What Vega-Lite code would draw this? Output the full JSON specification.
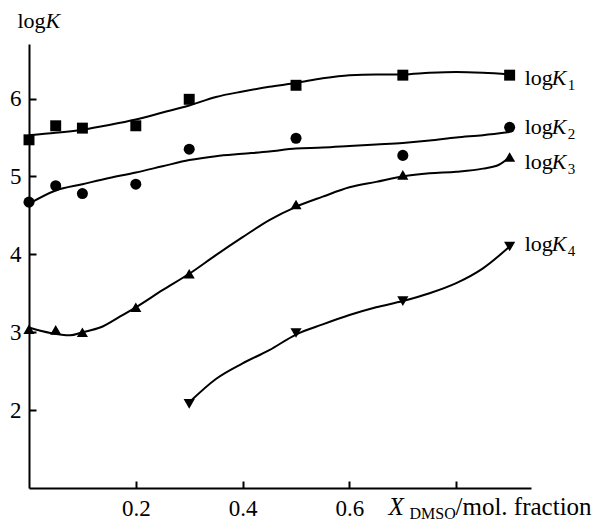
{
  "$schema": "https://vega.github.io/schema/vega-lite/v6.json",
  "width": 502,
  "height": 444,
  "autosize": {"type": "none"},
  "padding": {"left": 29, "top": 44, "right": 68, "bottom": 32},
  "background": "white",
  "config": {
    "font": "Liberation Serif",
    "view": {"stroke": null},
    "axis": {
      "grid": false,
      "domainColor": "black",
      "tickColor": "black",
      "labelColor": "black",
      "titleColor": "black",
      "domainWidth": 2,
      "tickWidth": 2,
      "labelFont": "Liberation Serif",
      "titleFont": "Liberation Serif",
      "titleFontWeight": "normal"
    }
  },
  "datasets": {
    "curves": [
      {"series": "1", "x": 0, "y": 5.53}, {"series": "1", "x": 0.05, "y": 5.56}, {"series": "1", "x": 0.1, "y": 5.6}, {"series": "1", "x": 0.15, "y": 5.66}, {"series": "1", "x": 0.2, "y": 5.73}, {"series": "1", "x": 0.25, "y": 5.82}, {"series": "1", "x": 0.3, "y": 5.91}, {"series": "1", "x": 0.35, "y": 6.02}, {"series": "1", "x": 0.4, "y": 6.09}, {"series": "1", "x": 0.45, "y": 6.15}, {"series": "1", "x": 0.5, "y": 6.2}, {"series": "1", "x": 0.55, "y": 6.26}, {"series": "1", "x": 0.6, "y": 6.3}, {"series": "1", "x": 0.65, "y": 6.31}, {"series": "1", "x": 0.7, "y": 6.31}, {"series": "1", "x": 0.75, "y": 6.33}, {"series": "1", "x": 0.8, "y": 6.34}, {"series": "1", "x": 0.85, "y": 6.33}, {"series": "1", "x": 0.9, "y": 6.31},
      {"series": "2", "x": 0, "y": 4.65}, {"series": "2", "x": 0.05, "y": 4.82}, {"series": "2", "x": 0.1, "y": 4.9}, {"series": "2", "x": 0.15, "y": 4.98}, {"series": "2", "x": 0.2, "y": 5.05}, {"series": "2", "x": 0.25, "y": 5.13}, {"series": "2", "x": 0.3, "y": 5.21}, {"series": "2", "x": 0.35, "y": 5.26}, {"series": "2", "x": 0.4, "y": 5.29}, {"series": "2", "x": 0.45, "y": 5.32}, {"series": "2", "x": 0.5, "y": 5.36}, {"series": "2", "x": 0.55, "y": 5.37}, {"series": "2", "x": 0.6, "y": 5.39}, {"series": "2", "x": 0.65, "y": 5.41}, {"series": "2", "x": 0.7, "y": 5.43}, {"series": "2", "x": 0.75, "y": 5.46}, {"series": "2", "x": 0.8, "y": 5.5}, {"series": "2", "x": 0.85, "y": 5.53}, {"series": "2", "x": 0.9, "y": 5.57},
      {"series": "3", "x": 0, "y": 3.06}, {"series": "3", "x": 0.04, "y": 2.99}, {"series": "3", "x": 0.077, "y": 2.96}, {"series": "3", "x": 0.1, "y": 3.0}, {"series": "3", "x": 0.133, "y": 3.06}, {"series": "3", "x": 0.17, "y": 3.2}, {"series": "3", "x": 0.2, "y": 3.32}, {"series": "3", "x": 0.25, "y": 3.54}, {"series": "3", "x": 0.3, "y": 3.75}, {"series": "3", "x": 0.35, "y": 3.99}, {"series": "3", "x": 0.4, "y": 4.22}, {"series": "3", "x": 0.45, "y": 4.44}, {"series": "3", "x": 0.5, "y": 4.61}, {"series": "3", "x": 0.55, "y": 4.74}, {"series": "3", "x": 0.6, "y": 4.86}, {"series": "3", "x": 0.65, "y": 4.93}, {"series": "3", "x": 0.7, "y": 5.0}, {"series": "3", "x": 0.75, "y": 5.04}, {"series": "3", "x": 0.8, "y": 5.06}, {"series": "3", "x": 0.85, "y": 5.1}, {"series": "3", "x": 0.88, "y": 5.15}, {"series": "3", "x": 0.9, "y": 5.25},
      {"series": "4", "x": 0.3, "y": 2.1}, {"series": "4", "x": 0.35, "y": 2.4}, {"series": "4", "x": 0.4, "y": 2.6}, {"series": "4", "x": 0.45, "y": 2.77}, {"series": "4", "x": 0.5, "y": 2.97}, {"series": "4", "x": 0.55, "y": 3.1}, {"series": "4", "x": 0.6, "y": 3.22}, {"series": "4", "x": 0.65, "y": 3.32}, {"series": "4", "x": 0.7, "y": 3.4}, {"series": "4", "x": 0.75, "y": 3.5}, {"series": "4", "x": 0.8, "y": 3.63}, {"series": "4", "x": 0.85, "y": 3.82}, {"series": "4", "x": 0.9, "y": 4.1}
    ],
    "points": [
      {"series": "1", "x": 0, "y": 5.47}, {"series": "1", "x": 0.05, "y": 5.65}, {"series": "1", "x": 0.1, "y": 5.62}, {"series": "1", "x": 0.2, "y": 5.65}, {"series": "1", "x": 0.3, "y": 5.99}, {"series": "1", "x": 0.5, "y": 6.17}, {"series": "1", "x": 0.7, "y": 6.3}, {"series": "1", "x": 0.9, "y": 6.3},
      {"series": "2", "x": 0, "y": 4.67}, {"series": "2", "x": 0.05, "y": 4.88}, {"series": "2", "x": 0.1, "y": 4.78}, {"series": "2", "x": 0.2, "y": 4.9}, {"series": "2", "x": 0.3, "y": 5.35}, {"series": "2", "x": 0.5, "y": 5.49}, {"series": "2", "x": 0.7, "y": 5.27}, {"series": "2", "x": 0.9, "y": 5.63},
      {"series": "3", "x": 0, "y": 3.04}, {"series": "3", "x": 0.05, "y": 3.03}, {"series": "3", "x": 0.1, "y": 3.0}, {"series": "3", "x": 0.2, "y": 3.32}, {"series": "3", "x": 0.3, "y": 3.75}, {"series": "3", "x": 0.5, "y": 4.64}, {"series": "3", "x": 0.7, "y": 5.02}, {"series": "3", "x": 0.9, "y": 5.25},
      {"series": "4", "x": 0.3, "y": 2.08}, {"series": "4", "x": 0.5, "y": 2.99}, {"series": "4", "x": 0.7, "y": 3.4}, {"series": "4", "x": 0.9, "y": 4.1}
    ],
    "labels": [
      {"series": "1", "x": 0.9, "y": 6.18, "sub": "1"},
      {"series": "2", "x": 0.9, "y": 5.55, "sub": "2"},
      {"series": "3", "x": 0.9, "y": 5.09, "sub": "3"},
      {"series": "4", "x": 0.9, "y": 4.04, "sub": "4"}
    ]
  },
  "layer": [
    {
      "data": {"name": "curves"},
      "mark": {"type": "line", "interpolate": "monotone", "stroke": "black", "strokeWidth": 2},
      "encoding": {
        "x": {
          "field": "x", "type": "quantitative",
          "scale": {"domain": [0, 0.94], "nice": false, "zero": false},
          "axis": {
            "orient": "bottom",
            "values": [0.2, 0.4, 0.6, 0.8],
            "labelExpr": "datum.value > 0.7 ? '' : format(datum.value, '.1f')",
            "tickSize": -7,
            "labelPadding": 16,
            "labelFontSize": 23,
            "labelBaseline": "top",
            "title": "X",
            "titleFontStyle": "italic",
            "titleFontSize": 25,
            "titleX": 359,
            "titleY": 26,
            "titleAlign": "left",
            "titleBaseline": "alphabetic",
            "titleAnchor": "start"
          }
        },
        "y": {
          "field": "y", "type": "quantitative",
          "scale": {"domain": [1, 6.7], "nice": false, "zero": false},
          "axis": {
            "orient": "left",
            "values": [2, 3, 4, 5, 6],
            "tickSize": -7,
            "labelPadding": 15,
            "labelFontSize": 23,
            "title": "log",
            "titleAngle": 0,
            "titleFontSize": 22,
            "titleX": -12,
            "titleY": -17,
            "titleAlign": "left",
            "titleBaseline": "alphabetic",
            "titleAnchor": "start"
          }
        },
        "detail": {"field": "series"}
      }
    },
    {
      "data": {"name": "points"},
      "mark": {"type": "point", "filled": true, "opacity": 1, "color": "black"},
      "encoding": {
        "x": {
          "field": "x", "type": "quantitative",
          "scale": {"domain": [0, 0.94], "nice": false, "zero": false},
          "axis": {
            "orient": "bottom", "domain": false, "ticks": false, "labels": false,
            "title": "DMSO", "titleFontSize": 16, "titleX": 380, "titleY": 30,
            "titleAlign": "left", "titleBaseline": "alphabetic", "titleAnchor": "start"
          }
        },
        "y": {
          "field": "y", "type": "quantitative",
          "scale": {"domain": [1, 6.7], "nice": false, "zero": false},
          "axis": {
            "orient": "left", "domain": false, "ticks": false, "labels": false,
            "title": "K", "titleFontStyle": "italic", "titleAngle": 0, "titleFontSize": 22,
            "titleX": 16, "titleY": -17,
            "titleAlign": "left", "titleBaseline": "alphabetic", "titleAnchor": "start"
          }
        },
        "shape": {
          "field": "series", "type": "nominal",
          "scale": {"domain": ["1", "2", "3", "4"], "range": ["square", "circle", "triangle-up", "triangle-down"]},
          "legend": null
        },
        "size": {
          "field": "series", "type": "nominal",
          "scale": {"domain": ["1", "2", "3", "4"], "range": [120, 125, 150, 150]},
          "legend": null
        }
      }
    },
    {
      "data": {"name": "labels"},
      "mark": {"type": "text", "align": "left", "baseline": "alphabetic", "dx": 15, "fontSize": 22, "color": "black"},
      "encoding": {
        "x": {
          "field": "x", "type": "quantitative",
          "scale": {"domain": [0, 0.94], "nice": false, "zero": false},
          "axis": {
            "orient": "bottom", "domain": false, "ticks": false, "labels": false,
            "title": "/mol. fraction", "titleFontSize": 25, "titleX": 426, "titleY": 26,
            "titleAlign": "left", "titleBaseline": "alphabetic", "titleAnchor": "start"
          }
        },
        "y": {"field": "y", "type": "quantitative", "scale": {"domain": [1, 6.7], "nice": false, "zero": false}, "axis": null},
        "text": {"value": "log"}
      }
    },
    {
      "data": {"name": "labels"},
      "mark": {"type": "text", "align": "left", "baseline": "alphabetic", "dx": 42, "fontSize": 22, "fontStyle": "italic", "color": "black"},
      "encoding": {
        "x": {"field": "x", "type": "quantitative", "scale": {"domain": [0, 0.94], "nice": false, "zero": false}, "axis": null},
        "y": {"field": "y", "type": "quantitative", "scale": {"domain": [1, 6.7], "nice": false, "zero": false}, "axis": null},
        "text": {"value": "K"}
      }
    },
    {
      "data": {"name": "labels"},
      "mark": {"type": "text", "align": "left", "baseline": "alphabetic", "dx": 58, "dy": 5, "fontSize": 15, "color": "black"},
      "encoding": {
        "x": {"field": "x", "type": "quantitative", "scale": {"domain": [0, 0.94], "nice": false, "zero": false}, "axis": null},
        "y": {"field": "y", "type": "quantitative", "scale": {"domain": [1, 6.7], "nice": false, "zero": false}, "axis": null},
        "text": {"field": "sub"}
      }
    }
  ],
  "resolve": {"axis": {"x": "independent", "y": "independent"}}
}
